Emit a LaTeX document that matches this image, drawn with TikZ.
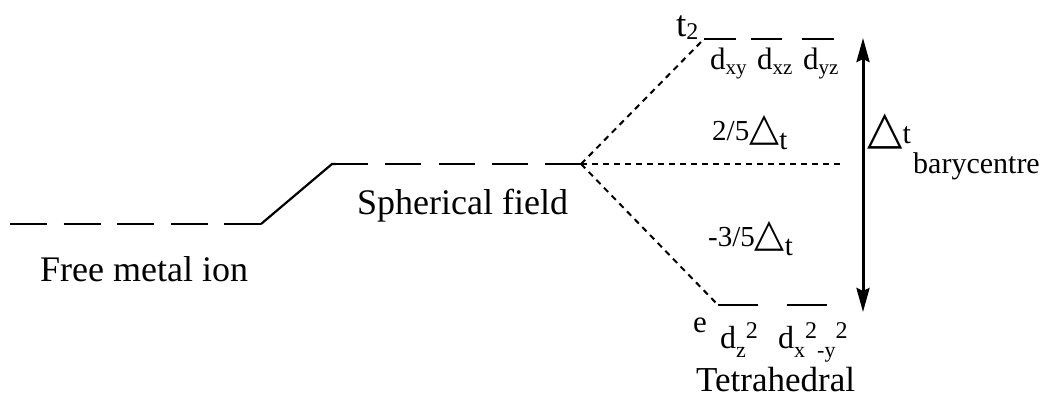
\documentclass[tikz,border=0pt]{standalone}
\usepackage{fontspec}
\setmainfont{Liberation Serif}
\newfontfamily\dvs{DejaVu Sans}
\usetikzlibrary{arrows.meta}
\newcommand{\fs}[1]{\fontsize{#1}{#1}\selectfont}
\newcommand{\sbs}[1]{\raisebox{-5pt}{\fs{21}#1}}
\newcommand{\lsb}[1]{\raisebox{-9pt}{\fs{22}#1}}
\newcommand{\sps}[1]{\raisebox{10pt}{\fs{24}#1}}
\newcommand{\tri}{{\dvs\fs{39}\char"25B3}}
\begin{document}
\begin{tikzpicture}[x=1pt,y=-1pt,
  level/.style={line width=2.2pt},
  freelevel/.style={line width=2.2pt,dash pattern=on 37pt off 16.5pt},
  sphlevel/.style={line width=2.2pt,dash pattern=on 36pt off 17.25pt},
  dotline/.style={line width=2pt,dash pattern=on 6pt off 5pt},
  lab/.style={inner sep=0pt,anchor=base west},
  gap/.style={line width=3pt,{Stealth[length=24pt,width=13pt,inset=3pt]}-{Stealth[length=24pt,width=13pt,inset=3pt]}}]
\useasboundingbox (0,0) rectangle (1041,399);
% coordinates
\coordinate (fa) at (10,224);
\coordinate (fb) at (261,224);
\coordinate (sa) at (332,164);
\coordinate (sb) at (581,164);
\coordinate (bc) at (843,164);
\coordinate (t1a) at (704,39);
\coordinate (t1b) at (736,39);
\coordinate (t2a) at (751,39);
\coordinate (t2b) at (782,39);
\coordinate (t3a) at (802,39);
\coordinate (t3b) at (834,39);
\coordinate (e1a) at (718,305);
\coordinate (e1b) at (758,305);
\coordinate (e2a) at (787,305);
\coordinate (e2b) at (827,305);
\coordinate (ar1) at (863,38);
\coordinate (ar2) at (863,312);
% levels
\draw[freelevel] (fa) -- (fb);
\draw[level] (fb) -- (sa) -- ++(4,0);
\draw[sphlevel] (sa) -- (sb);
\draw[level] (t1a) -- (t1b);
\draw[level] (t2a) -- (t2b);
\draw[level] (t3a) -- (t3b);
\draw[level] (e1a) -- (e1b);
\draw[level] (e2a) -- (e2b);
% correlation lines
\draw[dotline] (sb) -- (t1a);
\draw[dotline] (sb) -- (e1a);
\draw[dotline] (sb) -- (bc);
% splitting arrow
\draw[gap] (ar1) -- (ar2);
% labels
\node[lab] (free) at (40,281) {\fs{36}Free metal ion};
\node[lab] (sph) at (357,214) {\fs{36}Spherical field};
\node[lab] (tt) at (676,36) {\fs{37}t\raisebox{-3pt}{\fs{24}2}};
\node[lab] (dxy) at (710,69) {\fs{31}d\sbs{xy}};
\node[lab] (dxz) at (757,69) {\fs{31}d\sbs{xz}};
\node[lab] (dyz) at (803,69) {\fs{31}d\sbs{yz}};
\node[lab] (ee) at (693,332) {\fs{31}e};
\node[lab] (dz) at (720,348) {\fs{32}d\lsb{z}\sps{2}};
\node[lab] (dx) at (778,348) {\fs{32}d\lsb{x}\sps{2}\lsb{-y}\sps{2}};
\node[lab] (tet) at (696,391) {\fs{35}Tetrahedral};
\node[lab] (up) at (712,140) {\fs{29}2/5\tri\raisebox{-9pt}{t}};
\node[lab] (down) at (708,246) {\fs{29}-3/5\tri\raisebox{-9pt}{t}};
\node[lab] (dt) at (867,143) {\fs{30}{\dvs\fs{46}\char"25B3}t};
\node[lab] (bary) at (913,173) {\fs{30}barycentre};
\end{tikzpicture}
\end{document}
